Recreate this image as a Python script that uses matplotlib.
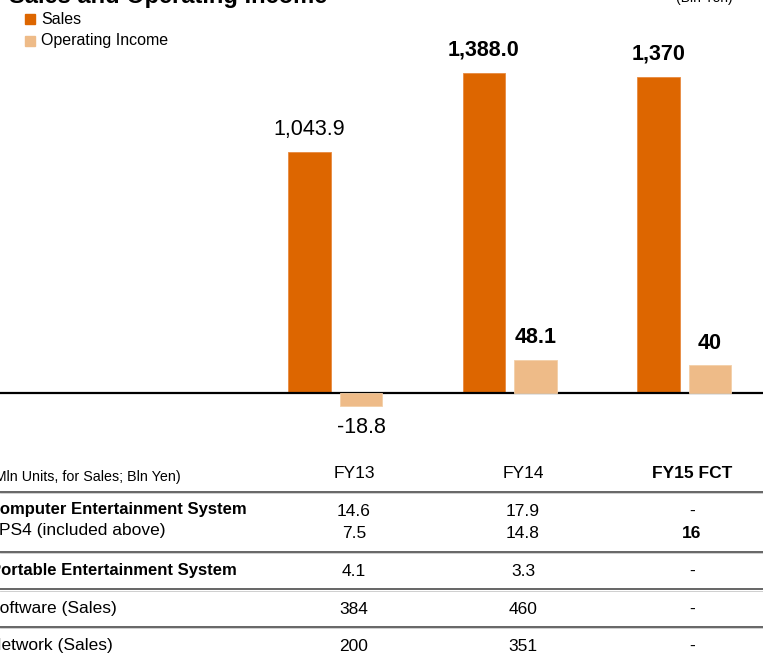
import matplotlib
matplotlib.use("Agg")
import matplotlib.pyplot as plt

plt.rcParams['font.family'] = ['Liberation Sans', 'DejaVu Sans']

# ---- data -------------------------------------------------------------
years = ["FY13", "FY14", "FY15 FCT"]
sales = [1043.9, 1388.0, 1370]
op_income = [-18.8, 48.1, 40]
sales_labels = ["1,043.9", "1,388.0", "1,370"]
oi_labels = ["-18.8", "48.1", "40"]
label_bold = [False, True, True]

row_labels = ["Computer Entertainment System", "PS4 (included above)",
              "Portable Entertainment System", "Software (Sales)", "Network (Sales)"]
row_bold = [True, False, True, False, False]
table_fy13 = ["14.6", "7.5", "4.1", "384", "200"]
table_fy14 = ["17.9", "14.8", "3.3", "460", "351"]
table_fy15 = ["-", "16", "-", "-", "-"]
fy15_bold = [False, True, False, False, False]

SALES_C = "#DD6600"
OI_C = "#EEBB88"

W, H = 763, 657
fig = plt.figure(figsize=(W / 100, H / 100), dpi=100)


def fx(px):
    return px / W


def fy(py):
    return 1 - py / H


# ---- bar chart area (pixel 0..450 from top, zero line at 393) ---------
ax = fig.add_axes([0, fy(450), 1, 450 / H])
ax2 = ax.twinx()
sales_scale = 0.2309   # px per Bln Yen
oi_scale = 0.69        # income bars drawn on their own, larger scale
ax.set_ylim(-57 / sales_scale, 393 / sales_scale)
ax2.set_ylim(-57 / oi_scale, 393 / oi_scale)
ax.set_xlim(-335.25 / 174.5, (W - 335.25) / 174.5)
for a in (ax, ax2):
    a.axis("off")

x = list(range(len(years)))
off = 0.1476
bw = 0.246
ax.bar([i - off for i in x], sales, width=bw, color=SALES_C, edgecolor="#E88A40", linewidth=0.6)
ax2.bar([i + off for i in x], op_income, width=bw, color=OI_C, edgecolor="#F3CFA8", linewidth=0.6)
ax.axhline(0, color="black", lw=1.6, zorder=5)

for i, (v, lab, b) in enumerate(zip(sales, sales_labels, label_bold)):
    ax.annotate(lab, (i - off, v), xytext=(0, 8.5), textcoords="offset points",
                ha="center", va="bottom", fontsize=15.5,
                fontweight="bold" if b else "normal")
for i, (v, lab, b) in enumerate(zip(op_income, oi_labels, label_bold)):
    if v >= 0:
        ax2.annotate(lab, (i + off, v), xytext=(0, 8.5), textcoords="offset points",
                     ha="center", va="bottom", fontsize=15.5,
                     fontweight="bold" if b else "normal")
    else:
        ax2.annotate(lab, (i + off, v), xytext=(0, -8), textcoords="offset points",
                     ha="center", va="top", fontsize=15.5,
                     fontweight="bold" if b else "normal")

# ---- title and legend -------------------------------------------------
fig.text(fx(9), fy(2.5), "Sales and Operating Income", fontsize=17, fontweight="bold",
         ha="left", va="baseline")
fig.text(fx(733), fy(2), "(Bln Yen)", fontsize=10, ha="right", va="baseline")

for py, lab, col in [(19, "Sales", SALES_C), (41, "Operating Income", OI_C)]:
    fig.patches.append(plt.Rectangle((fx(25), fy(py + 5)), 10 / W, 10 / H,
                                     transform=fig.transFigure, color=col))
    fig.text(fx(41), fy(py), lab, fontsize=11.5, ha="left", va="center")

# ---- table ------------------------------------------------------------
col_x = [354, 523, 692]
fig.text(fx(-10), fy(476.5), "(Mln Units, for Sales; Bln Yen)", fontsize=10.3,
         ha="left", va="center")
for cx, yr in zip(col_x, years):
    fig.text(fx(cx), fy(474), yr, fontsize=12.5, ha="center", va="center",
             fontweight="bold" if yr.endswith("FCT") else "normal")

label_y = [509.5, 530, 570, 609, 645.7]
value_y = [511, 534, 571, 609, 646.7]
label_x = [-12, -1, -10, -12, -11]
for ly, lx, lab, b in zip(label_y, label_x, row_labels, row_bold):
    fig.text(fx(lx), fy(ly), lab, fontsize=12 if b else 12.5, ha="left", va="center",
             fontweight="bold" if b else "normal")
for vy, a, b_, c, cb in zip(value_y, table_fy13, table_fy14, table_fy15, fy15_bold):
    fig.text(fx(col_x[0]), fy(vy), a, fontsize=12.5, ha="center", va="center")
    fig.text(fx(col_x[1]), fy(vy), b_, fontsize=12.5, ha="center", va="center")
    fig.text(fx(col_x[2]), fy(vy), c, fontsize=12.5, ha="center", va="center",
             fontweight="bold" if cb else "normal")

for ly in [491.7, 551.7, 589.3, 627]:
    fig.add_artist(plt.Line2D([0, 1], [fy(ly), fy(ly)], color="#3c3c3c", lw=1.1,
                              transform=fig.transFigure))
    fig.add_artist(plt.Line2D([0, 1], [fy(ly + 1.3), fy(ly + 1.3)], color="#c8c8c8", lw=0.6,
                              transform=fig.transFigure))

fig.savefig("out.png", dpi=100)
